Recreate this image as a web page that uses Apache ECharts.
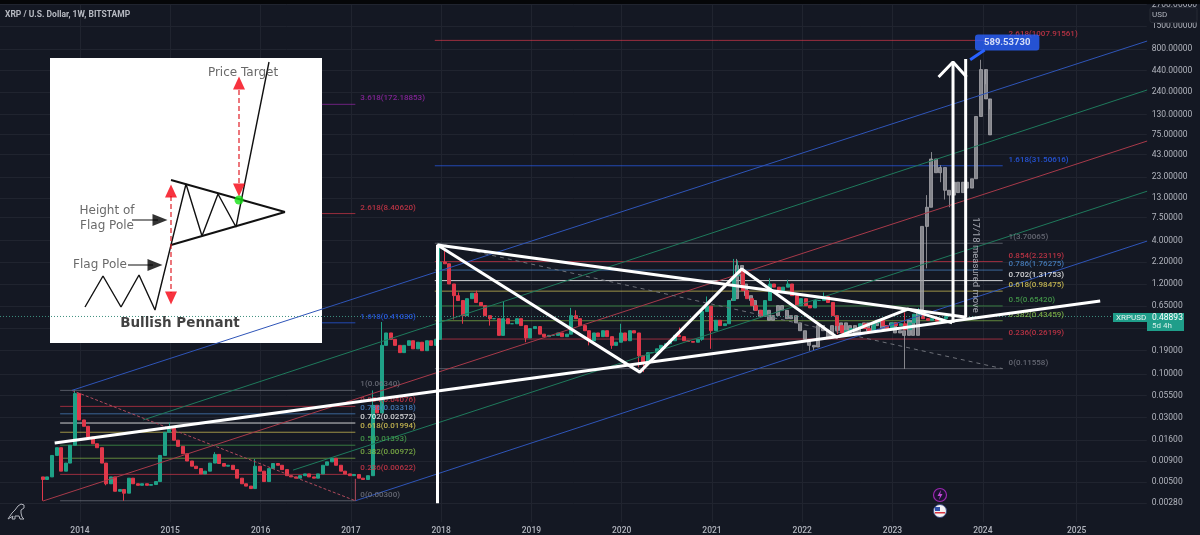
<!DOCTYPE html>
<html>

	<head>
		<meta charset="UTF-8">
		<title>XRP / U.S. Dollar</title>
		<script src="https://cdn.jsdelivr.net/npm/echarts@6/dist/echarts.min.js"></script>
		<style>
			html, body { margin: 0; padding: 0; background: #141823; }
		</style>
	</head>

	<body>
		<div id="main" style="width: 1200px;height:535px;"></div>
		<script type="text/javascript">
			// axes
			var yearTicks = [2014, 2015, 2016, 2017, 2018, 2019, 2020, 2021, 2022, 2023, 2024, 2025.04];
			var priceTicks = [2700, 1500, 800, 440, 240, 130, 75, 43, 23, 13, 7.5, 4, 2.2, 1.2, 0.65, 0.35, 0.19, 0.1, 0.055, 0.03, 0.016, 0.009, 0.005, 0.0028];

			// weekly candles, one every 0.05 year
			var mainStart = 2013.59;
			var mainFirstOpen = 0.0058;
			var mainCloses = [
				0.0054, 0.0058, 0.0105, 0.013, 0.0068, 0.0085, 0.0139, 0.058, 0.028, 0.0235,
				0.0175, 0.0145, 0.013, 0.0085, 0.0048, 0.0058, 0.0039, 0.0041, 0.0037, 0.0056,
				0.0048, 0.0046, 0.0048, 0.0046, 0.0047, 0.0051, 0.0105, 0.0199, 0.023, 0.016,
				0.0135, 0.011, 0.009, 0.0078, 0.0073, 0.0063, 0.0068, 0.0085, 0.0108, 0.0084,
				0.0078, 0.008, 0.0071, 0.0056, 0.0048, 0.0045, 0.0042, 0.0078, 0.0068, 0.0051,
				0.0073, 0.0084, 0.008, 0.0071, 0.006, 0.0058, 0.0056, 0.006, 0.0063, 0.0058,
				0.0056, 0.0063, 0.008, 0.0088, 0.0097, 0.008, 0.0068, 0.0063, 0.006, 0.0062,
				0.0056, 0.0054, 0.006, 0.042, 0.034, 0.22, 0.31, 0.26, 0.22, 0.18,
				0.22, 0.25, 0.2, 0.24, 0.19, 0.25, 0.22, 0.26, 2.2, 2.1,
				1.2, 0.87, 0.76, 0.5, 0.8, 0.93, 0.72, 0.66, 0.5, 0.46,
				0.46, 0.29, 0.46, 0.4, 0.4, 0.46, 0.38, 0.27, 0.35, 0.37,
				0.3, 0.28, 0.29, 0.29, 0.31, 0.28, 0.3, 0.5, 0.46, 0.38,
				0.33, 0.25, 0.31, 0.28, 0.33, 0.28, 0.22, 0.24, 0.31, 0.25,
				0.33, 0.31, 0.165, 0.135, 0.18, 0.18, 0.2, 0.22, 0.23, 0.25,
				0.29, 0.28, 0.25, 0.245, 0.24, 0.26, 0.56, 0.65, 0.33, 0.44,
				0.38, 0.4, 0.76, 1.5, 1.76, 1.0, 0.8, 0.66, 0.58, 0.5,
				0.76, 1.2, 1.1, 0.95, 1.1, 1.2, 0.87, 0.66, 0.8, 0.66,
				0.62, 0.76, 0.76, 0.85, 0.72, 0.5, 0.38, 0.31, 0.33, 0.35,
				0.35, 0.4, 0.35, 0.32, 0.41, 0.44, 0.38, 0.34, 0.41, 0.38,
				0.4, 0.34, 0.41, 0.52, 0.56, 0.46, 0.44, 0.46, 0.43, 0.46, 0.48893
			];
			// [candle index, price]
			var mainHighs = [[7, 0.0634], [28, 0.026], [38, 0.0115], [47, 0.0095], [73, 0.0634], [75, 0.42], [88, 3.7], [89, 3.0], [92, 0.95], [96, 1.0], [102, 0.74], [117, 0.62], [118, 0.58], [128, 0.4], [141, 0.36], [147, 0.85], [153, 2.4], [154, 2.3], [161, 1.4], [165, 1.35], [173, 0.95], [191, 0.55], [194, 0.62]];
			var mainLows = [[0, 0.003], [14, 0.0046], [18, 0.003], [91, 0.45], [93, 0.4], [94, 0.6], [99, 0.38], [107, 0.24], [121, 0.22], [126, 0.2], [132, 0.12], [133, 0.105], [146, 0.25], [148, 0.2], [176, 0.3]];

			// grey projected bars
			var ghostStart = 2021.23;
			var ghostFirstOpen = 0.76;
			var ghostCloses = [
				0.8, 2.0, 1.2, 0.87, 0.76, 0.58, 0.49, 0.58, 0.44, 0.5,
				0.66, 0.58, 0.46, 0.5, 0.41, 0.33, 0.26, 0.22, 0.21, 0.38,
				0.33, 0.27, 0.38, 0.33, 0.41, 0.33, 0.38, 0.31, 0.35, 0.41,
				0.33, 0.38, 0.44, 0.35, 0.38, 0.41, 0.31, 0.33, 0.29, 0.44,
				0.29, 0.58, 5.9, 10, 38, 26, 30, 16, 14, 20,
				15, 20, 17, 22, 123, 450, 200, 74
			];
			var ghostHighs = [[1, 2.4], [43, 14], [44, 46], [45, 37], [46, 32], [55, 589.5373], [56, 300], [57, 150]];
			var ghostLows = [[17, 0.19], [18, 0.19], [38, 0.115], [42, 0.6], [43, 1.85], [46, 20], [47, 12.4], [48, 10]];

			// fib levels
			var fibLeftRatios = ['1', '0.854', '0.786', '0.702', '0.618', '0.5', '0.382', '0.236', '0'];
			var fibLeftPrices = [0.0634, 0.04076, 0.03318, 0.02572, 0.01994, 0.01393, 0.00972, 0.00622, 0.003];
			var fibLeftRange = [2013.78, 2017.05];
			var fibLeftExtRatios = ['1.618', '2.618', '3.618'];
			var fibLeftExtPrices = [0.4103, 8.4062, 172.18853];
			var fibLeftExtRange = [2016.68, 2017.05];
			var fibLeftLabelYear = 2017.10;
			var fibRightRatios = ['1', '0.854', '0.786', '0.702', '0.618', '0.5', '0.382', '0.236', '0', '1.618', '2.618'];
			var fibRightPrices = [3.70065, 2.23119, 1.76275, 1.31753, 0.98475, 0.6542, 0.43459, 0.26199, 0.11558, 31.50616, 1007.91561];
			var fibRightRange = [2017.93, 2024.22];
			var fibRightLabelYear = 2024.28;

			// drawn lines [year, price]
			var channelBlueTop = [[2013.91, 0.0634], [2025.82, 990]];
			var channelGreenTop = [[2014.70, 0.028], [2025.82, 256]];
			var channelRed = [[2013.59, 0.00298], [2025.82, 62.4]];
			var channelGreenLow = [[2016.36, 0.007], [2025.82, 15.6]];
			var channelBlueLow = [[2017.05, 0.003], [2025.82, 3.93]];
			var diagLeft = [[2013.91, 0.0634], [2017.05, 0.003]];
			var diagLeftDrop = [[2017.05, 0.0055], [2017.05, 0.003]];
			var diagRight = [[2017.96, 3.7], [2024.22, 0.11558]];
			var trendLower = [[2013.72, 0.0148], [2025.30, 0.75]];
			var pennantUpper = [[2017.96, 3.52], [2023.82, 0.48]];
			var pennantPath = [[2017.96, 0.0028], [2017.96, 3.52], [2020.20, 0.105], [2021.33, 1.82], [2022.38, 0.277], [2023.17, 0.6], [2023.66, 0.41]];
			var arrowShaft = [[2023.67, 0.41], [2023.67, 555]];
			var arrowHead = [[2023.51, 366], [2023.67, 555], [2023.82, 366]];
			var measureLine = [[2023.81, 0.48], [2023.81, 602]];
			var lastPriceLine = [[2013.114, 0.48893], [2025.44, 0.48893]];
			var calloutTail = [[2023.86, 590], [2024.02, 773]];

			// texts on the price scale
			var calloutPoint = [2024.27, 950];
			var calloutText = '589.53730';
			var measureTextPoint = [2023.92, 2.03];
			var measureText = '17/18 measured move';

			// bullish pennant diagram, in its own 272 x 285 scale
			var diagPrice = [[35, 249], [53, 218], [71, 249], [89, 217], [105, 252], [136, 126], [152, 178], [168, 136], [186, 169], [219, 4]];
			var diagUpper = [[121, 122], [235, 154]];
			var diagLower = [[121, 187], [235, 154]];
			var diagPole = [[121, 138], [121, 235]];
			var diagTarget = [[189, 32], [189, 128]];
			var diagHeightStem = [[82, 162], [108, 162]];
			var diagPoleStem = [[78, 207], [103, 207]];
			var diagRedUp = [[121, 133], [189, 25]];
			var diagRedDown = [[121, 240], [189, 132]];
			var diagBlackArrows = [[110, 162], [105, 207]];
			var diagBreakout = [[189, 142]];
			var diagTexts = [
				{ name: 'Price Target', value: [193, 15] },
				{ name: 'Height of', value: [57, 153] },
				{ name: 'Flag Pole', value: [57, 168] },
				{ name: 'Flag Pole', value: [50, 207] }
			];
			var diagTitle = [{ name: 'Bullish Pennant', value: [130, 265] }];

			var FIB_COLORS = {
				'0': '#787b86', '0.236': '#e0394c', '0.382': '#8bc34a', '0.5': '#4caf50', '0.618': '#e8d65a',
				'0.702': '#ffffff', '0.786': '#4f8fd6', '0.854': '#e0394c', '1': '#787b86',
				'1.618': '#2962ff', '2.618': '#e0394c', '3.618': '#9c27b0'
			};
			var UP = '#1fa187';
			var DOWN = '#e0384a';
			var GHOST = 'rgba(165,165,170,0.78)';
			var AXIS_TEXT = '#b2b5be';

			function buildCandles(start, firstOpen, closes, highs, lows) {
				var high = {}, low = {};
				highs.forEach(function(h) { high[h[0]] = h[1]; });
				lows.forEach(function(l) { low[l[0]] = l[1]; });
				return closes.map(function(c, i) {
					var o = i === 0 ? firstOpen : closes[i - 1];
					return [start + i * 0.05, o, c, low[i] || Math.min(o, c), high[i] || Math.max(o, c)];
				});
			}

			function seg(name, data, color, width, type, z) {
				return {
					type: 'line', name: name, data: data, showSymbol: false, silent: true, animation: false,
					lineStyle: { color: color, width: width, type: type || 'solid' },
					z: z || 3
				};
			}

			function diagSeg(name, data, color, width, type) {
				var s = seg(name, data, color, width, type, 3);
				s.xAxisIndex = 1;
				s.yAxisIndex = 1;
				return s;
			}

			function textSeries(name, data, label, xi, z) {
				return {
					type: 'scatter', name: name, data: data, symbolSize: 1, silent: true, animation: false,
					itemStyle: { color: 'transparent' }, xAxisIndex: xi || 0, yAxisIndex: xi || 0, z: z || 4,
					label: Object.assign({ show: true, formatter: '{b}', fontFamily: 'Roboto' }, label)
				};
			}

			function diagMarks(name, data, symbol, size, rotate, color) {
				return {
					type: 'scatter', name: name, data: data, symbol: symbol, symbolSize: size, symbolRotate: rotate,
					silent: true, animation: false, xAxisIndex: 1, yAxisIndex: 1, z: 4, itemStyle: { color: color }
				};
			}

			function fibSeries(key, ratios, prices, range, labelYear) {
				var out = [];
				var labels = [];
				ratios.forEach(function(r, i) {
					out.push(seg(key + r, [[range[0], prices[i]], [range[1], prices[i]]], FIB_COLORS[r], 1, 'solid', 2));
					out[out.length - 1].lineStyle.opacity = r === '0.702' ? 0.8 : 0.65;
					labels.push({
						name: r + '(' + prices[i].toFixed(5) + ')',
						value: [labelYear, prices[i]],
						label: { color: FIB_COLORS[r] }
					});
				});
				out.push(textSeries(key + 'Labels', labels, { position: 'right', distance: 0, offset: [0, -6], fontSize: 8, fontWeight: 500 }));
				return out;
			}

			var series = [
				{
					type: 'candlestick', name: 'ghost', data: buildCandles(ghostStart, ghostFirstOpen, ghostCloses, ghostHighs, ghostLows),
					encode: { x: 0, y: [1, 2, 3, 4] }, barWidth: 3.5, silent: true, animation: false, z: 2,
					itemStyle: { color: GHOST, color0: GHOST, borderColor: GHOST, borderColor0: GHOST, borderWidth: 1 }
				},
				{
					type: 'candlestick', name: 'XRPUSD', data: buildCandles(mainStart, mainFirstOpen, mainCloses, mainHighs, mainLows),
					encode: { x: 0, y: [1, 2, 3, 4] }, barWidth: 3.5, silent: true, animation: false, z: 2,
					itemStyle: { color: UP, color0: DOWN, borderColor: UP, borderColor0: DOWN, borderWidth: 1 }
				},
				seg('blueTop', channelBlueTop, '#2f55b8', 1, 'solid', 4),
				seg('greenTop', channelGreenTop, '#1f7a5c', 1),
				seg('red', channelRed, '#a83a4a', 1),
				seg('greenLow', channelGreenLow, '#1f7a5c', 1),
				seg('blueLow', channelBlueLow, '#2f55b8', 1),
				seg('diagLeft', diagLeft, '#b04a5c', 1, [3, 2]),
				seg('diagLeftDrop', diagLeftDrop, '#b04a5c', 1),
				seg('diagRight', diagRight, '#6d7078', 1, [4, 4]),
				seg('lastPrice', lastPriceLine, '#3f8f7f', 1, [1, 2], 4),
				seg('trendLower', trendLower, '#ffffff', 3, 'solid', 6),
				seg('pennantUpper', pennantUpper, '#ffffff', 3, 'solid', 6),
				seg('pennantPath', pennantPath, '#ffffff', 3, 'solid', 6),
				seg('arrowShaft', arrowShaft, '#ffffff', 3, 'solid', 6),
				seg('arrowHead', arrowHead, '#ffffff', 3, 'solid', 6),
				seg('measureLine', measureLine, '#ffffff', 3, 'solid', 6),
				seg('calloutTail', calloutTail, '#2962ff', 3, 'solid', 6),
				textSeries('callout', [{ name: calloutText, value: calloutPoint }], {
					position: 'inside', color: '#fff', fontWeight: 'bold', fontSize: 9.5,
					backgroundColor: '#2962ff', padding: [3, 9], borderRadius: 3
				}, 0, 7),
				textSeries('measure', [{ name: measureText, value: measureTextPoint }], {
					position: 'inside', color: '#c4c7cf', fontSize: 9.5, rotate: -90
				}, 0, 7),

				diagSeg('diagPrice', diagPrice, '#111', 1.4),
				diagSeg('diagUpper', diagUpper, '#111', 2),
				diagSeg('diagLower', diagLower, '#111', 2),
				diagSeg('diagPole', diagPole, '#e01b24', 1.2, [5, 3]),
				diagSeg('diagTarget', diagTarget, '#e01b24', 1.2, [5, 3]),
				diagSeg('diagHeightStem', diagHeightStem, '#111', 1.2),
				diagSeg('diagPoleStem', diagPoleStem, '#111', 1.2),
				diagMarks('diagRedUp', diagRedUp, 'triangle', [12, 13], 0, '#f5000f'),
				diagMarks('diagRedDown', diagRedDown, 'triangle', [12, 13], 180, '#f5000f'),
				diagMarks('diagBlackArrows', diagBlackArrows, 'triangle', [12, 15], -90, '#000'),
				diagMarks('diagBreakout', diagBreakout, 'circle', 9, 0, '#12e012'),
				textSeries('diagTexts', diagTexts, { position: 'inside', color: '#444', fontFamily: 'DejaVu Sans', fontSize: 12 }, 1),
				textSeries('diagTitle', diagTitle, { position: 'inside', color: '#111', fontFamily: 'DejaVu Sans', fontSize: 13.5, fontWeight: 'bold' }, 1)
			]
				.concat(fibSeries('fibLeft', fibLeftRatios, fibLeftPrices, fibLeftRange, fibLeftLabelYear))
				.concat(fibSeries('fibLeftExt', fibLeftExtRatios, fibLeftExtPrices, fibLeftExtRange, fibLeftLabelYear))
				.concat(fibSeries('fibRight', fibRightRatios, fibRightPrices, fibRightRange, fibRightLabelYear));

			var myChart = echarts.init(document.getElementById('main'));
			var lastPrice = mainCloses[mainCloses.length - 1];

			myChart.setOption({
				backgroundColor: '#141823',
				animation: false,
				title: {
					text: 'XRP / U.S. Dollar, 1W, BITSTAMP', left: 5, top: 10, padding: 0,
					textStyle: { color: '#b7bac2', fontSize: 8.5, fontWeight: 'bold', fontFamily: 'Roboto' }
				},
				grid: [
					{ left: 0, right: 53, top: 4, bottom: 13 },
					{ left: 50, top: 58, width: 272, height: 285, show: true, backgroundColor: '#ffffff', borderWidth: 0, z: 1 }
				],
				xAxis: [{
					type: 'value', min: 2013.114, max: 2025.816,
					axisLine: { show: false },
					axisTick: { show: false, customValues: yearTicks },
					splitLine: { show: true, lineStyle: { color: '#20242f', width: 1 } },
					axisLabel: {
						customValues: yearTicks, margin: 4, color: AXIS_TEXT, fontSize: 8.5, fontWeight: 500, fontFamily: 'Roboto',
						hideOverlap: false, showMinLabel: true, showMaxLabel: true,
						formatter: function(v) { return String(Math.floor(v)); }
					}
				}, {
					type: 'value', gridIndex: 1, min: 0, max: 272, show: false
				}],
				yAxis: [{
					type: 'log', position: 'right', min: 0.001668, max: 2756,
					axisLine: { show: false },
					axisTick: { show: false, customValues: priceTicks },
					splitLine: { show: true, lineStyle: { color: '#20242f', width: 1 } },
					axisLabel: {
						customValues: priceTicks, margin: 5, color: AXIS_TEXT, fontSize: 8.5, fontFamily: 'Roboto',
						hideOverlap: false, showMinLabel: true, showMaxLabel: true,
						formatter: function(v) { return v.toFixed(5); }
					}
				}, {
					type: 'value', gridIndex: 1, min: 0, max: 285, inverse: true, show: false
				}],
				graphic: [
					{ type: 'rect', z: 30, shape: { x: 0, y: 0, width: 1200, height: 4 }, style: { fill: '#050608' } },
					{ type: 'rect', z: 20, shape: { x: 1150, y: 7.5, width: 47, height: 15, r: 2 }, style: { fill: '#171b26', stroke: '#262a35', lineWidth: 1 } },
					{ type: 'text', z: 21, x: 1152, y: 10.5, style: { text: 'USD', fill: AXIS_TEXT, font: '8px Roboto' } },
					{ type: 'rect', z: 20, shape: { x: 1113, y: 313, width: 34, height: 9 }, style: { fill: '#1f9e8a' } },
					{ type: 'rect', z: 20, shape: { x: 1147, y: 313, width: 37, height: 18 }, style: { fill: '#1f9e8a' } },
					{ type: 'text', z: 21, x: 1116, y: 313.5, style: { text: 'XRPUSD', fill: '#e8f5f2', font: '8px Roboto' } },
					{ type: 'text', z: 21, x: 1152, y: 313.5, style: { text: lastPrice.toFixed(5), fill: '#ffffff', font: '8.5px Roboto' } },
					{ type: 'text', z: 21, x: 1152, y: 322, style: { text: '5d 4h', fill: '#d6f0ea', font: '8px Roboto' } },
					{
						type: 'polygon', z: 21,
						shape: { points: [[8, 519], [12, 513], [15, 510], [18, 506], [21, 504], [24, 505], [24, 508], [21, 510], [21, 513], [22, 517], [24, 519], [20, 519], [19, 516], [15, 516], [15, 519], [12, 519], [13, 516]] },
						style: { fill: 'none', stroke: '#b2b5be', lineWidth: 1 }
					},
					{ type: 'circle', z: 21, shape: { cx: 940, cy: 495, r: 6.5 }, style: { fill: '#1c1230', stroke: '#9c27b0', lineWidth: 1.2 } },
					{ type: 'polygon', z: 22, shape: { points: [[941, 490], [937.5, 496], [940, 496], [939, 500], [942.5, 494], [940.2, 494]] }, style: { fill: '#c04ad6' } },
					{ type: 'circle', z: 21, shape: { cx: 940, cy: 511, r: 6.5 }, style: { fill: '#f2f2f2', stroke: '#3b4a80', lineWidth: 1 } },
					{ type: 'rect', z: 22, shape: { x: 935, y: 507, width: 5, height: 4 }, style: { fill: '#2f4fa8' } },
					{ type: 'rect', z: 22, shape: { x: 935, y: 512, width: 10, height: 1.5 }, style: { fill: '#d8333f' } }
				],
				series: series
			});
		</script>
	</body>

</html>
